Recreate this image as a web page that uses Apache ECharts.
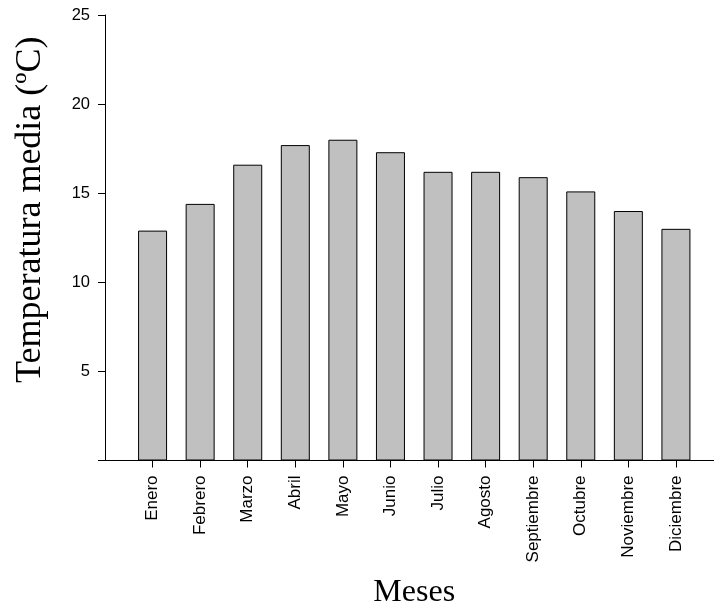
<!DOCTYPE html>
<html>
<head>
<meta charset="utf-8">
<script src="https://cdn.jsdelivr.net/npm/echarts@6/dist/echarts.min.js"></script>
<style>
html,body{margin:0;padding:0;background:#fff;}
#chart{width:714px;height:610px;}
</style>
</head>
<body>
<div id="chart"></div>
<script>
const months = ["Enero","Febrero","Marzo","Abril","Mayo","Junio","Julio","Agosto","Septiembre","Octubre","Noviembre","Diciembre"];
const temperatures = [12.9, 14.4, 16.6, 17.7, 18.0, 17.3, 16.2, 16.2, 15.9, 15.1, 14.0, 13.0];
const yTicks = [5, 10, 15, 20, 25];
const yTitle = "Temperatura media (ºC)";
const xTitle = "Meses";

// pad one empty slot at each end so the bars sit at positions 1..12 of 0..13
const cats = [""].concat(months, [""]);
const vals = [null].concat(temperatures, [null]);

const chart = echarts.init(document.getElementById('chart'), null, {renderer: 'canvas'});
chart.setOption({
  animation: false,
  backgroundColor: '#ffffff',
  grid: {left: 105, top: 15, width: 618.5, bottom: 149.5, containLabel: false, outerBoundsMode: 'none'},
  xAxis: [{
    type: 'category',
    data: cats,
    boundaryGap: false,
    position: 'bottom',
    axisLine: {show: true, onZero: false, lineStyle: {color: '#000', width: 1}},
    axisTick: {show: true, length: 7, lineStyle: {color: '#000'},
      interval: function (i, v) { return v !== ""; }},
    axisLabel: {rotate: 90, margin: 15, color: '#000', fontSize: 17,
      fontFamily: 'Liberation Sans, Arial, sans-serif', interval: 0},
    splitLine: {show: false},
    name: xTitle,
    nameLocation: 'middle',
    nameGap: 116,
    nameTextStyle: {fontFamily: 'Liberation Serif, serif', fontSize: 32, color: '#000'}
  }, {
    type: 'category',
    data: cats,
    boundaryGap: false,
    position: 'top',
    axisLine: {show: true, lineStyle: {color: '#000', width: 1}},
    axisTick: {show: false},
    axisLabel: {show: false},
    splitLine: {show: false}
  }],
  yAxis: {
    type: 'value',
    min: 0,
    max: 25,
    interval: 5,
    axisLine: {show: true, lineStyle: {color: '#000', width: 1}},
    axisTick: {show: true, length: 7, lineStyle: {color: '#000'}},
    axisLabel: {margin: 15, color: '#000', fontSize: 16.5,
      fontFamily: 'Liberation Sans, Arial, sans-serif',
      formatter: function (v) { return yTicks.indexOf(v) >= 0 ? String(v) : ''; }},
    splitLine: {show: false},
    name: yTitle,
    nameLocation: 'middle',
    nameGap: 56,
    nameRotate: 90,
    nameTextStyle: {fontFamily: 'Liberation Serif, serif', fontSize: 36, color: '#000',
      padding: [0, 0, 0, 56]}
  },
  series: [{
    type: 'bar',
    data: vals,
    barWidth: 29,
    itemStyle: {color: '#c0c0c0', borderColor: '#000', borderWidth: 1}
  }]
});
</script>
</body>
</html>
